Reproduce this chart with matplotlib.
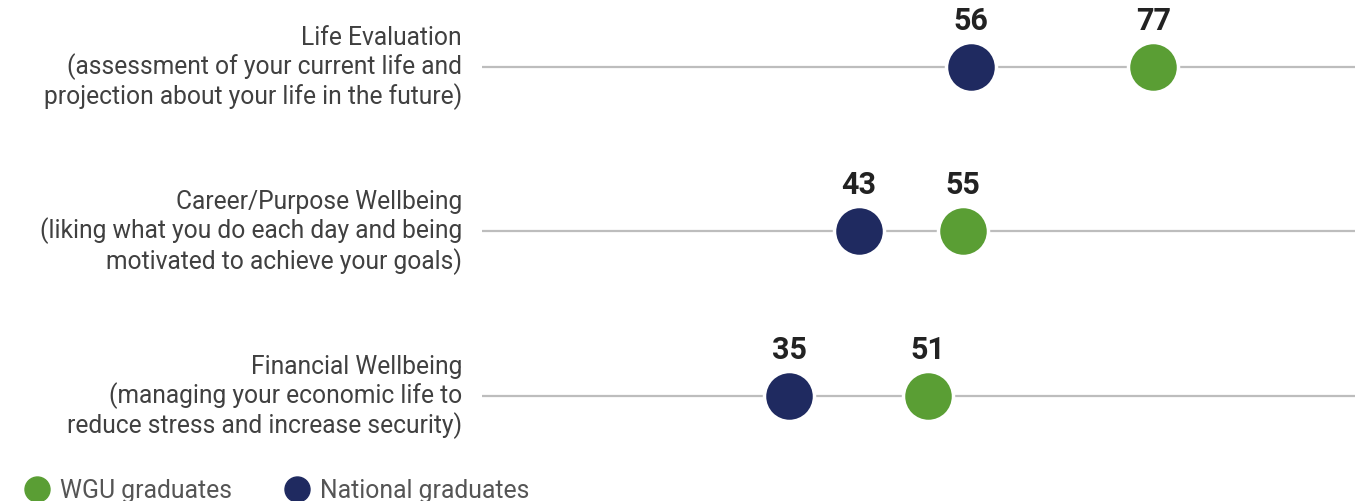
import matplotlib.pyplot as plt

categories = [
    "Life Evaluation\n(assessment of your current life and\nprojection about your life in the future)",
    "Career/Purpose Wellbeing\n(liking what you do each day and being\nmotivated to achieve your goals)",
    "Financial Wellbeing\n(managing your economic life to\nreduce stress and increase security)",
]
national = [56, 43, 35]
wgu = [77, 55, 51]

navy = "#1f2a60"
green = "#5a9e34"

fig = plt.figure(figsize=(13.55, 5.02), dpi=100)
ax = fig.add_axes([482 / 1355, 0, 873 / 1355, 1])
ax.set_xlim(-0.5, 100.3)
ax.set_ylim(2.638, -0.413)
ax.axis("off")

ypos = list(range(len(categories)))
for i, label in enumerate(categories):
    ax.axhline(i, color="#bdbdbd", lw=1.6, zorder=1)
    fig.text(462 / 1355, 1 - (68 + i * 164.5) / 502, label, ha="right", va="center",
             fontsize=17.7, color="#404040", family="Roboto", linespacing=1.17)

ax.plot(national, ypos, "o", ms=36, color=navy, mec="white", mew=2.5, ls="none", zorder=3)
ax.plot(wgu, ypos, "o", ms=36, color=green, mec="white", mew=2.5, ls="none", zorder=3)

for v, y in zip(national + wgu, ypos + ypos):
    ax.annotate(str(v), (v, y), xytext=(0, 34), textcoords="offset points", ha="center",
                va="center", fontsize=22, fontweight="bold", color="#222222", family="Roboto")

# legend
lx = fig.add_axes([0, 0, 1, 1], facecolor="none")
lx.set_xlim(0, 1355)
lx.set_ylim(502, 0)
lx.axis("off")
lx.plot([37], [490], "o", ms=18, color=green)
lx.text(60, 491, "WGU graduates", va="center", fontsize=17.8, color="#555555", family="Roboto")
lx.plot([297], [490], "o", ms=18, color=navy)
lx.text(320, 491, "National graduates", va="center", fontsize=17.8, color="#555555",
        family="Roboto")

fig.savefig("out.png", dpi=100)
